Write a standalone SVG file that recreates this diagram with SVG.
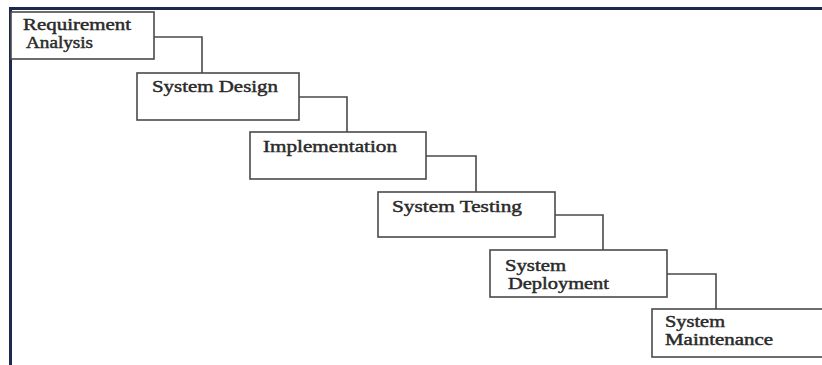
<svg xmlns="http://www.w3.org/2000/svg" width="822" height="365" viewBox="0 0 822 365">
  <style>
    .frame { stroke: #1b2a4e; stroke-width: 3; fill: none; }
    .step rect { fill: #ffffff; stroke: #4a4a4a; stroke-width: 1.6; }
    .step text { font-family: "Liberation Serif", "Times New Roman", serif; font-size: 17px; fill: #2a2a2a; stroke: #2a2a2a; stroke-width: 0.45; }
    .step text.two { font-size: 16px; }
    .link { fill: none; stroke: #4a4a4a; stroke-width: 1.6; }
  </style>
  <rect width="822" height="365" fill="#ffffff"/>

  <!-- outer frame: top and left rules -->
  <path class="frame" d="M10.5,365 V8.5 H822"/>

  <!-- stair-step connectors -->
  <g id="connectors">
    <path class="link" d="M154,37 H202 V73"/>
    <path class="link" d="M299,97 H347 V132"/>
    <path class="link" d="M426,156 H476 V192"/>
    <path class="link" d="M555,215 H603 V250"/>
    <path class="link" d="M667,274 H716 V309"/>
  </g>

  <g id="requirement-analysis" class="step">
    <rect x="11" y="12" width="143" height="47"/>
    <text class="two" x="23" y="30" textLength="108" lengthAdjust="spacingAndGlyphs">Requirement</text>
    <text class="two" x="26" y="48" textLength="67" lengthAdjust="spacingAndGlyphs">Analysis</text>
  </g>

  <g id="system-design" class="step">
    <rect x="137" y="73" width="162" height="47"/>
    <text x="152" y="92" textLength="126" lengthAdjust="spacingAndGlyphs">System Design</text>
  </g>

  <g id="implementation" class="step">
    <rect x="250" y="132" width="176" height="47"/>
    <text x="263" y="152" textLength="134" lengthAdjust="spacingAndGlyphs">Implementation</text>
  </g>

  <g id="system-testing" class="step">
    <rect x="378" y="192" width="177" height="45"/>
    <text x="392" y="212" textLength="130" lengthAdjust="spacingAndGlyphs">System Testing</text>
  </g>

  <g id="system-deployment" class="step">
    <rect x="490" y="250" width="177" height="47"/>
    <text class="two" x="505" y="271" textLength="61" lengthAdjust="spacingAndGlyphs">System</text>
    <text class="two" x="508" y="289" textLength="101" lengthAdjust="spacingAndGlyphs">Deployment</text>
  </g>

  <g id="system-maintenance" class="step">
    <rect x="652" y="309" width="175" height="48"/>
    <text class="two" x="665" y="327" textLength="60" lengthAdjust="spacingAndGlyphs">System</text>
    <text class="two" x="665" y="345" textLength="108" lengthAdjust="spacingAndGlyphs">Maintenance</text>
  </g>
</svg>
